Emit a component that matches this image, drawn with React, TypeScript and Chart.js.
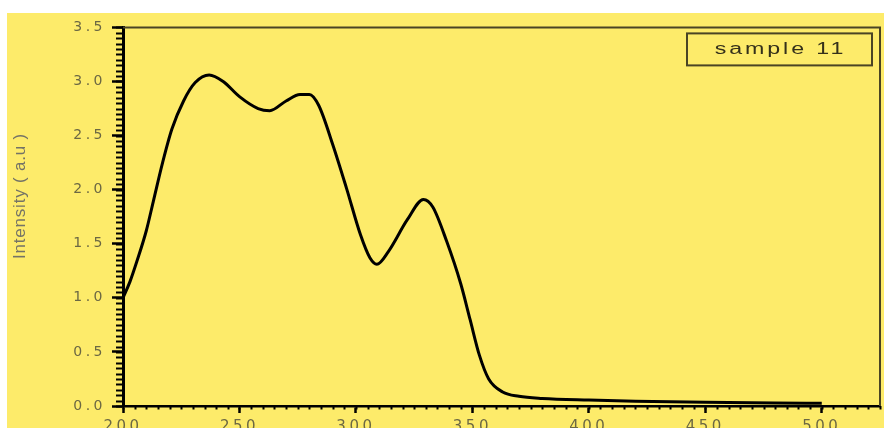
import React, { useEffect, useRef } from "react";
import { Chart, registerables } from "chart.js";

Chart.register(...registerables);

// ---- data ----
const seriesLabel = "sample 11";
const yAxisTitle = "Intensity ( a.u )";
const wavelength = [
  200, 203, 206, 210, 213, 217, 221, 226, 231, 237, 243, 250, 258, 263, 270,
  276, 280, 284, 290, 296, 302, 306, 309, 314, 322, 329, 333, 339, 345, 349,
  353, 357, 363, 370, 380, 400, 420, 450, 480, 500,
];
const intensity = [
  1.0, 1.15, 1.34, 1.62, 1.89, 2.25, 2.56, 2.82, 2.99, 3.06, 3.0, 2.86, 2.75,
  2.73, 2.82, 2.88, 2.88, 2.78, 2.42, 2.01, 1.58, 1.37, 1.31, 1.43, 1.72, 1.91,
  1.84, 1.52, 1.13, 0.8, 0.47, 0.25, 0.13, 0.09, 0.07, 0.055, 0.045, 0.035,
  0.028, 0.025,
];
const xMin = 200;
const xMax = 525;
const xMajorStep = 50;
const xMinorStep = 5;
const yMin = 0;
const yMax = 3.5;
const yMajorStep = 0.5;
const yMinorStep = 0.05;

const BG = "#FDEB6A";
const LABEL_COLOR = "#6c6843";

export default function App() {
  const ref = useRef<HTMLCanvasElement>(null);

  useEffect(() => {
    const canvas = ref.current;
    if (!canvas) return;

    const points = wavelength.map((x, i) => ({ x, y: intensity[i] }));

    const decorPlugin = {
      id: "decor",
      beforeDraw(chart: any) {
        const { ctx, width, height } = chart;
        ctx.save();
        ctx.fillStyle = BG;
        ctx.fillRect(0, 0, width, height);
        ctx.restore();
        ctx.letterSpacing = "3.5px";
      },
      afterDraw(chart: any) {
        const { ctx, chartArea } = chart;
        const xs = chart.scales.x;
        const ys = chart.scales.y;
        ctx.letterSpacing = "0px";
        ctx.save();
        // frame top/right
        ctx.strokeStyle = "#4a4424";
        ctx.lineWidth = 2;
        ctx.beginPath();
        ctx.moveTo(chartArea.left, chartArea.top);
        ctx.lineTo(chartArea.right, chartArea.top);
        ctx.lineTo(chartArea.right, chartArea.bottom);
        ctx.stroke();
        // minor ticks
        ctx.strokeStyle = "#000";
        ctx.lineWidth = 2;
        ctx.beginPath();
        const nY = Math.round((yMax - yMin) / yMinorStep);
        for (let i = 0; i <= nY; i++) {
          const py = Math.round(ys.getPixelForValue(yMin + i * yMinorStep)) + 0.5;
          ctx.moveTo(chartArea.left - 7, py);
          ctx.lineTo(chartArea.left, py);
        }
        const nX = Math.round((xMax - xMin) / xMinorStep);
        for (let i = 0; i <= nX; i++) {
          const px = Math.round(xs.getPixelForValue(xMin + i * xMinorStep)) + 0.5;
          ctx.moveTo(px, chartArea.bottom);
          ctx.lineTo(px, chartArea.bottom + 3.5);
        }
        ctx.stroke();
        // y axis title
        ctx.save();
        ctx.fillStyle = "#747366";
        ctx.font = '17px "Liberation Sans", Arial, sans-serif';
        ctx.letterSpacing = "0.8px";
        ctx.textAlign = "center";
        ctx.textBaseline = "middle";
        ctx.translate(13, 183);
        ctx.rotate(-Math.PI / 2);
        ctx.fillText(yAxisTitle, 0, 0);
        ctx.restore();
        // legend box
        const bw = 185;
        const bh = 32;
        const bx = chartArea.right - 8 - bw;
        const by = chartArea.top + 6;
        ctx.strokeStyle = "#4a4424";
        ctx.lineWidth = 2;
        ctx.strokeRect(bx, by, bw, bh);
        ctx.fillStyle = "#34301a";
        ctx.font = '16px "Liberation Sans", Arial, sans-serif';
        ctx.textAlign = "center";
        ctx.textBaseline = "middle";
        ctx.letterSpacing = "2px";
        ctx.translate(bx + bw / 2 + 1, by + bh / 2);
        ctx.scale(1.45, 1);
        ctx.fillText(chart.data.datasets[0].label, 0, 0);
        ctx.restore();
        ctx.letterSpacing = "0px";
      },
    };

    const chart = new Chart(canvas, {
      type: "line",
      data: {
        datasets: [
          {
            label: seriesLabel,
            data: points,
            borderColor: "#000",
            borderWidth: 3,
            pointRadius: 0,
            fill: false,
            tension: 0.4,
            cubicInterpolationMode: "monotone",
          },
        ],
      },
      options: {
        animation: false,
        responsive: false,
        maintainAspectRatio: false,
        layout: { padding: { top: 11, right: 4, left: 0, bottom: 0 } },
        plugins: {
          legend: { display: false },
          tooltip: { enabled: false },
        },
        scales: {
          x: {
            type: "linear",
            position: "bottom",
            min: xMin,
            max: xMax,
            afterFit: (s: any) => {
              s.height = 22;
            },
            ticks: {
              stepSize: xMajorStep,
              includeBounds: false,
              autoSkip: false,
              maxRotation: 0,
              padding: 5,
              color: LABEL_COLOR,
              font: { family: "DejaVu Sans", size: 15 },
              callback: (v: any) => String(v),
            },
            grid: {
              drawOnChartArea: false,
              tickLength: 7,
              tickWidth: 2.5,
              tickColor: "#000",
            },
            border: { color: "#000", width: 2.5 },
          },
          y: {
            type: "linear",
            position: "left",
            min: yMin,
            max: yMax,
            afterFit: (s: any) => {
              s.width = 116;
            },
            ticks: {
              stepSize: yMajorStep,
              padding: 6,
              color: LABEL_COLOR,
              font: { family: "DejaVu Sans", size: 14 },
              callback: (v: any) => Number(v).toFixed(1),
            },
            grid: {
              drawOnChartArea: false,
              tickLength: 11,
              tickWidth: 2.5,
              tickColor: "#000",
            },
            border: { color: "#000", width: 3 },
          },
        },
      },
      plugins: [decorPlugin],
    });

    return () => {
      chart.destroy();
    };
  }, []);

  return (
    <div
      style={{
        position: "fixed",
        left: 0,
        top: 0,
        width: 884,
        height: 428,
        background: "#ffffff",
        overflow: "hidden",
      }}
    >
      <canvas
        ref={ref}
        width={877}
        height={415}
        style={{ position: "absolute", left: 7, top: 13, width: 877, height: 415 }}
      />
    </div>
  );
}
